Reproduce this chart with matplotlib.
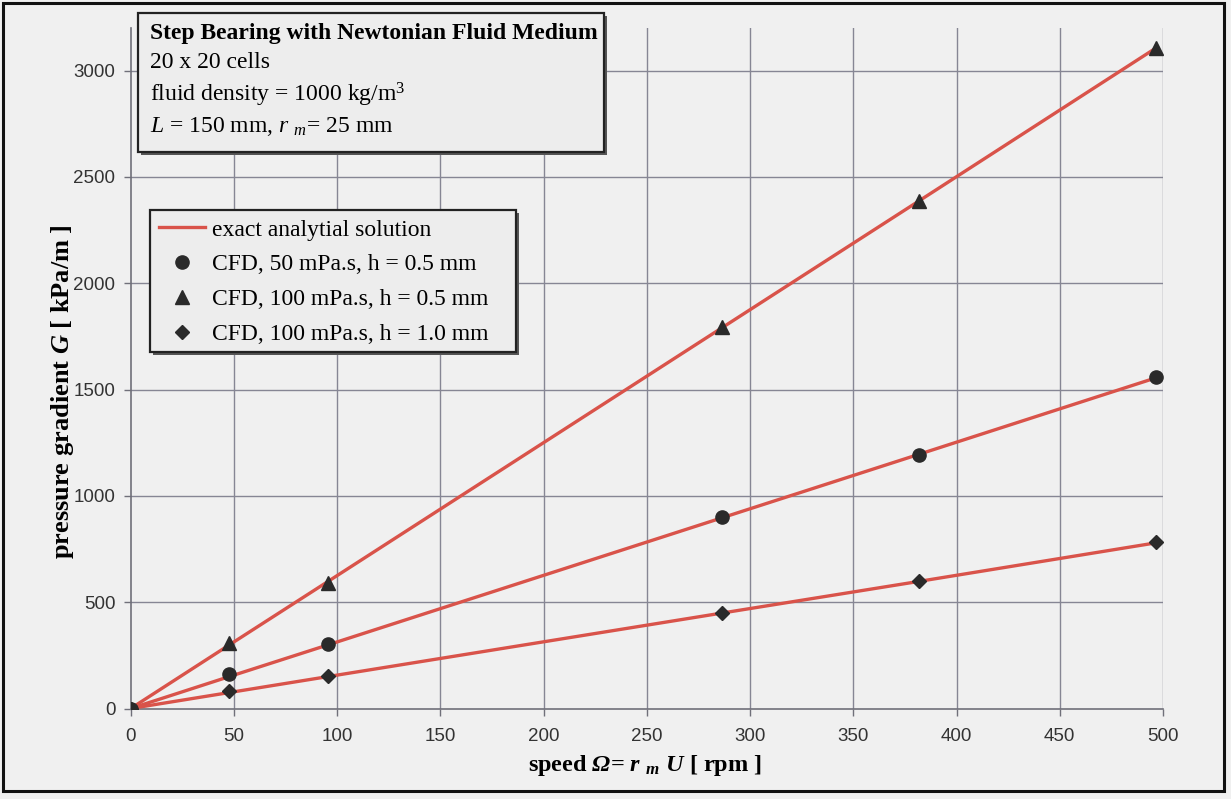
import matplotlib
matplotlib.use("Agg")
import matplotlib.pyplot as plt
from matplotlib.lines import Line2D
from matplotlib.patches import Rectangle

plt.rcParams['mathtext.fontset'] = 'custom'
plt.rcParams['mathtext.rm'] = 'Liberation Serif'
plt.rcParams['mathtext.it'] = 'Liberation Serif:italic'
plt.rcParams['mathtext.bf'] = 'Liberation Serif:bold'
plt.rcParams['mathtext.bfit'] = 'Liberation Serif:bold:italic'

# speed in rpm (5, 10, 30, 40, 52 rad/s)
speed = [0, 47.75, 95.5, 286.5, 382.0, 496.6]

# exact analytical pressure gradient, kPa/m
exact_50_05 = [0, 150, 299, 897, 1196, 1555]
exact_100_05 = [0, 299, 597, 1791, 2388, 3106]
exact_100_10 = [0, 75, 150, 449, 598, 779]

# CFD results, kPa/m
cfd_50_05 = [0, 162, 302, 900, 1193, 1559]
cfd_100_05 = [0, 308, 592, 1793, 2385, 3106]
cfd_100_10 = [0, 82, 153, 451, 600, 781]

legend_labels = ["exact analytial solution",
                 "CFD, 50 mPa.s, h = 0.5 mm",
                 "CFD, 100 mPa.s, h = 0.5 mm",
                 "CFD, 100 mPa.s, h = 1.0 mm"]

W, H = 1231, 799
bg = '#f0f0f0'
red = '#d9534a'
dark = '#2a2a2a'
grid = '#868694'


def fx(x):
    return x / W


def fy(y):
    return 1 - y / H


def framed_box(x0, y0, x1, y1, z):
    # light panel with a thin drop shadow, given in pixel corners
    fig.patches.append(Rectangle((fx(x0 + 3), fy(y1 + 3)), fx(x1 - x0), (y1 - y0) / H,
                                 transform=fig.transFigure, facecolor='#555555',
                                 edgecolor='none', zorder=z))
    fig.patches.append(Rectangle((fx(x0), fy(y1)), fx(x1 - x0), (y1 - y0) / H,
                                 transform=fig.transFigure, facecolor='#ededed',
                                 edgecolor='#222222', lw=1.6, zorder=z + 0.5))


fig = plt.figure(figsize=(W / 100, H / 100), dpi=100, facecolor=bg)
ax = fig.add_axes([fx(130.7), fy(708.5), fx(1163 - 130.7), (708.5 - 28) / H])
ax.set_facecolor(bg)

for ex in (exact_100_05, exact_50_05, exact_100_10):
    ax.plot(speed, ex, color=red, lw=2.4, zorder=3, solid_capstyle='round')

ms = 9.5
ax.plot(speed, cfd_50_05, 'o', color=dark, ms=ms, zorder=4)
ax.plot(speed, cfd_100_05, '^', color=dark, ms=ms + 0.5, zorder=4)
ax.plot(speed, cfd_100_10, 'D', color=dark, ms=ms - 2.5, zorder=4)

ax.set_xlim(0, 500)
ax.set_ylim(0, 3200)
ax.set_xticks(range(0, 501, 50))
ax.set_yticks(range(0, 3001, 500))
for v in range(50, 501, 50):
    ax.axvline(v, color=grid, lw=1.0, zorder=1)
for v in range(500, 3001, 500):
    ax.plot([0, 500], [v, v], color=grid, lw=1.0, zorder=1)

for s in ('top', 'right'):
    ax.spines[s].set_visible(False)
for s in ('left', 'bottom'):
    ax.spines[s].set_color('#70707a')
    ax.spines[s].set_linewidth(1.2)
ax.tick_params(direction='out', length=5, width=1, color='#70707a',
               labelsize=13.5, labelcolor='#333333')
ax.tick_params(axis='x', pad=9)
ax.tick_params(axis='y', pad=6)
for lab in ax.get_xticklabels() + ax.get_yticklabels():
    lab.set_family('Liberation Sans')

fig.text(fx(645), fy(766),
         r'speed $\mathbfit{\Omega}$= $\mathbfit{r}$ $_\mathbfit{m}$ $\mathbfit{U}$ [ rpm ]',
         family='Liberation Serif', fontweight='bold', fontsize=17.5,
         ha='center', va='center')
fig.text(fx(63), fy(392), r'pressure gradient $\mathbfit{G}$ [ kPa/m ]',
         family='Liberation Serif', fontweight='bold', fontsize=19,
         rotation=90, ha='center', va='center')

# info box
framed_box(138, 13, 604, 152, 5)
box_lines = [("Step Bearing with Newtonian Fluid Medium", 'bold', 33),
             ("20 x 20 cells", 'normal', 63),
             (r"fluid density = 1000 kg/m$^3$", 'normal', 95),
             (r"$L$ = 150 mm, $r$ $_m$= 25 mm", 'normal', 127)]
for txt, wt, yy in box_lines:
    fig.text(fx(150), fy(yy), txt, family='Liberation Serif', fontweight=wt,
             fontsize=17, va='center', ha='left', zorder=7)

# legend panel
framed_box(150, 210, 516, 352, 7)
handles = [Line2D([], [], color=red, lw=2.4),
           Line2D([], [], ls='none', marker='o', color=dark, ms=ms),
           Line2D([], [], ls='none', marker='^', color=dark, ms=ms + 0.5),
           Line2D([], [], ls='none', marker='D', color=dark, ms=ms - 2.5)]
leg = fig.legend(handles, legend_labels, loc='upper left',
                 bbox_to_anchor=(fx(159), fy(219)), bbox_transform=fig.transFigure,
                 borderaxespad=0, frameon=False, handlelength=1.95, handletextpad=0.28,
                 labelspacing=0.56, borderpad=0.0,
                 prop={'family': 'Liberation Serif', 'size': 17})
leg.set_zorder(9)

# outer frame
fig.patches.append(Rectangle((fx(3), fy(791)), fx(1224 - 3), (791 - 3) / H,
                             transform=fig.transFigure, facecolor='none',
                             edgecolor='#111111', lw=2.2, zorder=10))

fig.savefig('out.png', dpi=100, facecolor=bg)
